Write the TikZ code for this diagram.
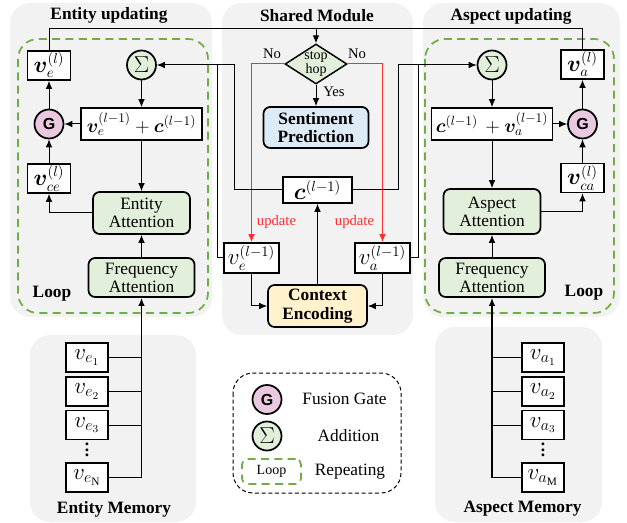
\documentclass[tikz,border=0pt]{standalone}
\usepackage{amsmath,bm}
\usepackage{fontspec}
\setmainfont{Liberation Serif}
\setsansfont{Liberation Sans}
\usetikzlibrary{shapes.geometric,arrows.meta}

\definecolor{panelgray}{RGB}{242,242,242}
\definecolor{attgreen}{RGB}{226,239,218}
\definecolor{gatepink}{RGB}{234,200,224}
\definecolor{predblue}{RGB}{221,235,247}
\definecolor{ctxyellow}{RGB}{255,242,204}
\definecolor{loopgreen}{RGB}{112,173,71}
\definecolor{updred}{RGB}{255,45,45}

\tikzset{every picture/.style={line width=0.75pt}}
\tikzset{
  panel/.style={draw=none, fill=panelgray, rounded corners=15pt},
  loopframe/.style={draw=loopgreen, dash pattern=on 6pt off 4pt, line width=1.3pt, rounded corners=15pt},
  legendframe/.style={draw, dash pattern=on 3pt off 2pt, rounded corners=15pt},
  paneltitle/.style={font=\bfseries\fontsize{13}{15}\selectfont},
  smalltxt/.style={font=\fontsize{11}{12}\selectfont},
  updtxt/.style={text=updred, font=\fontsize{11}{12}\selectfont},
  upd/.style={draw=updred},
  vbox/.style={draw, line width=1.3pt, fill=white, inner sep=0pt, minimum width=32.25pt, minimum height=21.75pt, font=\fontsize{16}{17}\selectfont},
  vpbox/.style={vbox, minimum width=41.25pt, minimum height=22.5pt},
  cbox/.style={vbox, minimum width=51.75pt, minimum height=19.5pt},
  sumbox/.style={vbox, minimum width=90.75pt, minimum height=24pt, font=\fontsize{14.5}{15}\selectfont},
  membox/.style={vbox, minimum width=31.5pt, minimum height=21.75pt, font=\fontsize{17}{18}\selectfont},
  dotsnode/.style={inner sep=0pt, align=center, font=\bfseries\fontsize{13}{4}\selectfont},
  attbox/.style={draw, line width=1.3pt, fill=attgreen, rounded corners=5pt, align=center, inner sep=0pt, minimum width=72.75pt, minimum height=31.5pt, font=\fontsize{13}{13.5}\selectfont},
  freqbox/.style={attbox, minimum width=79.5pt, minimum height=29.25pt},
  predbox/.style={attbox, fill=predblue, minimum width=78.75pt, minimum height=30.75pt, font=\bfseries\fontsize{13}{14}\selectfont},
  ctxbox/.style={predbox, fill=ctxyellow, minimum width=74.25pt, minimum height=31.5pt},
  decision/.style={diamond, draw, line width=1.1pt, fill=attgreen, aspect=1.55, inner sep=0pt, minimum width=46.5pt, minimum height=30pt, align=center, font=\fontsize{10.5}{8}\selectfont},
  gate/.style={circle, draw, line width=1.3pt, fill=gatepink, inner sep=0pt, minimum size=21.75pt, font=\sffamily\bfseries\fontsize{12}{12}\selectfont},
  addnode/.style={circle, draw, line width=1.3pt, fill=attgreen, inner sep=0pt, minimum size=21.75pt, font=\fontsize{16}{16}\selectfont}
}

\begin{document}
\begin{tikzpicture}[x=0.75pt,y=0.75pt,yscale=-1,xscale=1,>={Latex[length=6pt,width=5pt]},font=\fontsize{13}{13.5}\selectfont]
\useasboundingbox (0,0) rectangle (627,523);

\draw  [panel]  (10,3) rectangle (212,317) ;
\draw  [panel]  (222,3) rectangle (413,335) ;
\draw  [panel]  (423,3) rectangle (620,317) ;
\draw  [panel]  (30,335) rectangle (196,522) ;
\draw  [panel]  (435,327) rectangle (602,522) ;
\draw  [loopframe]  (18,39) rectangle (208,313) ;
\draw  [loopframe]  (425,39) rectangle (614,313) ;
\draw  [legendframe]  (233,373) rectangle (401,493) ;

\draw (109,15) node (tent) [paneltitle] {Entity updating};
\draw (317,16) node (tshared) [paneltitle] {Shared Module};
\draw (511,16) node (tasp) [paneltitle] {Aspect updating};
\draw (52,294) node (loopl) [paneltitle] {Loop};
\draw (584,293) node (loopr) [paneltitle] {Loop};
\draw (114,509) node (tmeme) [paneltitle] {Entity Memory};
\draw (522.5,509) node (tmema) [paneltitle] {Aspect Memory};

\draw (49,65.5) node (vel) [vbox] {$\bm{v}_{e}^{(l)}$};
\draw (141.5,65) node (sume) [addnode] {$\Sigma$};
\draw (141.5,124) node (sumboxe) [sumbox] {$\bm{v}_{e}^{(l-1)}+\bm{c}^{(l-1)}$};
\draw (49,124) node (ge) [gate] {G};
\draw (49,178.5) node (vce) [vbox] {$\bm{v}_{ce}^{(l)}$};
\draw (141.5,213) node (entatt) [attbox] {Entity\\Attention};
\draw (141.5,277.5) node (freqe) [freqbox] {Frequency\\Attention};

\draw (316,64) node (stop) [decision] {stop\\hop};
\draw (316,127.5) node (pred) [predbox] {Sentiment\\Prediction};
\draw (317.5,190) node (cprev) [cbox] {$\bm{c}^{(l-1)}$};
\draw (251.5,258) node (vel1) [vpbox] {$v_{e}^{(l-1)}$};
\draw (382.5,258) node (val1) [vpbox] {$v_{a}^{(l-1)}$};
\draw (317.5,306) node (ctx) [ctxbox] {Context\\Encoding};
\draw (272,54) node (nol) [smalltxt] {No};
\draw (357,54) node (nor) [smalltxt] {No};
\draw (334,92) node (yes) [smalltxt] {Yes};
\draw (276.5,222) node (updl) [updtxt] {update};
\draw (354.5,222) node (updr) [updtxt] {update};

\draw (492,65) node (suma) [addnode] {$\Sigma$};
\draw (582.5,64.5) node (val) [vbox] {$\bm{v}_{a}^{(l)}$};
\draw (492,124) node (sumboxa) [sumbox] {$\bm{c}^{(l-1)}\,+\bm{v}_{a}^{(l-1)}$};
\draw (582.5,124) node (ga) [gate] {G};
\draw (582.5,178) node (vca) [vbox] {$\bm{v}_{ca}^{(l)}$};
\draw (492,211.5) node (aspatt) [attbox, minimum height=33.75pt] {Aspect\\Attention};
\draw (492,277.5) node (freqa) [freqbox] {Frequency\\Attention};

\draw (87,357.5) node (me1) [membox] {$v_{e_{1}}$};
\draw (87,391.5) node (me2) [membox] {$v_{e_{2}}$};
\draw (87,425) node (me3) [membox] {$v_{e_{3}}$};
\draw (87,450) node (medots) [dotsnode] {.\\.\\.};
\draw (87,477.5) node (meN) [membox] {$v_{e_{\mathrm{N}}}$};
\draw (543,357.5) node (ma1) [membox] {$v_{a_{1}}$};
\draw (543,391.5) node (ma2) [membox] {$v_{a_{2}}$};
\draw (543,425) node (ma3) [membox] {$v_{a_{3}}$};
\draw (543,450) node (madots) [dotsnode] {.\\.\\.};
\draw (543,477.5) node (maM) [membox] {$v_{a_{\mathrm{M}}}$};

\draw (267,399.5) node (lgate) [gate] {G};
\draw (344.5,399) node (lgatetxt) {Fusion Gate};
\draw (267,436) node (ladd) [addnode] {$\Sigma$};
\draw (348.5,436) node (laddtxt) {Addition};
\draw (271.5,471.5) node (lloop) [loopframe, rounded corners=4pt, minimum width=44.25pt, minimum height=18.75pt, font=\fontsize{10.5}{12}\selectfont] {Loop};
\draw (350,472) node (llooptxt) {Repeating};

\coordinate (jtop) at (316,29);
\coordinate (jel) at (234,65);
\coordinate (jev) at (217,65);
\coordinate (jac) at (398,65);
\coordinate (jav) at (418,65);

\draw  [->]  (vel.north) |- (jtop) -- (stop.north) ;
\draw  (val.north) |- (jtop) ;
\draw  [->]  (stop.south) -- (pred.north) ;
\draw  [upd,->]  (stop.west) -| (vel1.north) ;
\draw  [upd,->]  (stop.east) -| (val1.north) ;
\draw  [->]  (vel1.south) |- (ctx.west) ;
\draw  [->]  (val1.south) |- (ctx.east) ;
\draw  [->]  (ctx.north) -- (cprev.south) ;
\draw  [->]  (cprev.west) -| (jel) -- (sume.east) ;
\draw  (vel1.west) -| (jev) ;
\draw  [->]  (cprev.east) -| (jac) -- (suma.west) ;
\draw  (val1.east) -| (jav) ;

\draw  [->]  (sume.south) -- (sumboxe.north) ;
\draw  [->]  (sumboxe.west) -- (ge.east) ;
\draw  [->]  (ge.north) -- (vel.south) ;
\draw  [->]  (vce.north) -- (ge.south) ;
\draw  [->]  (entatt.west) -| (vce.south) ;
\draw  [->]  (sumboxe.south) -- (entatt.north) ;
\draw  [->]  (freqe.north) -- (entatt.south) ;

\draw  [->]  (suma.south) -- (sumboxa.north) ;
\draw  [->]  (sumboxa.east) -- (ga.west) ;
\draw  [->]  (ga.north) -- (val.south) ;
\draw  [->]  (vca.north) -- (ga.south) ;
\draw  [->]  (aspatt.east) -| (vca.south) ;
\draw  [->]  (sumboxa.south) -- (aspatt.north) ;
\draw  [->]  (freqa.north) -- (aspatt.south) ;

\draw  [->, line width=1.2pt]  (meN.east) -| (freqe.south) ;
\draw  (me1.east) -- (me1.east -| freqe.south) ;
\draw  (me2.east) -- (me2.east -| freqe.south) ;
\draw  (me3.east) -- (me3.east -| freqe.south) ;
\draw  [->, line width=1.2pt]  (maM.west) -| (freqa.south) ;
\draw  (ma1.west) -- (ma1.west -| freqa.south) ;
\draw  (ma2.west) -- (ma2.west -| freqa.south) ;
\draw  (ma3.west) -- (ma3.west -| freqa.south) ;

\end{tikzpicture}
\end{document}
